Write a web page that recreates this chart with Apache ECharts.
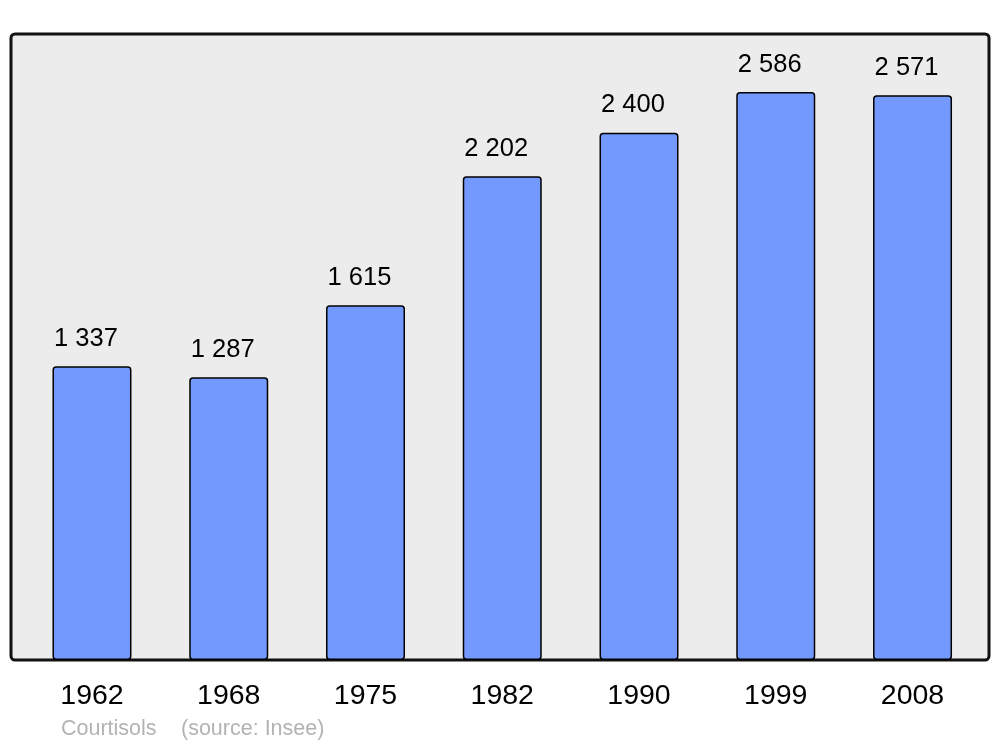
<!DOCTYPE html>
<html><head><meta charset="utf-8">
<script src="https://cdn.jsdelivr.net/npm/echarts@6/dist/echarts.min.js"></script>
<style>html,body{margin:0;padding:0;background:#fff}#c{width:1000px;height:747px}</style>
</head><body><div id="c"></div>
<script>
const years = ['1962','1968','1975','1982','1990','1999','2008'];
const population = [1337, 1287, 1615, 2202, 2400, 2586, 2571];
const footerName = 'Courtisols';
const footerSource = '(source: Insee)';

function fmt(v){ return String(v).replace(/\B(?=(\d{3})+(?!\d))/g, ' '); }

const chart = echarts.init(document.getElementById('c'), null, {renderer:'canvas'});
chart.setOption({
  animation: false,
  backgroundColor: '#ffffff',
  textStyle: {fontFamily: 'Liberation Sans, Arial, sans-serif'},
  graphic: [
    {type:'rect', z:-10, shape:{x:11, y:34, width:978, height:626, r:4},
     style:{fill:'#ececec', stroke:'#111111', lineWidth:3}},
    {type:'text', left:61, top:718, style:{text:footerName, fill:'#b3b3b3', font:'21.5px "Liberation Sans", Arial, sans-serif'}},
    {type:'text', left:181, top:718, style:{text:footerSource, fill:'#b3b3b3', font:'21.5px "Liberation Sans", Arial, sans-serif'}}
  ],
  grid: {left:23.6, right:19.1, top:34, bottom:87, containLabel:false},
  xAxis: {
    type:'category', data: years, boundaryGap:true,
    axisLine:{show:false}, axisTick:{show:false},
    axisLabel:{color:'#000', fontSize:28.5, margin:22, fontFamily:'Liberation Sans, Arial, sans-serif'}
  },
  yAxis: {type:'value', min:0, max:2850, show:false, splitLine:{show:false}},
  series: [{
    type:'bar', data: population, barWidth:79,
    itemStyle:{color:'#7399ff', borderColor:'#000', borderWidth:1.5, borderRadius:3},
    label:{show:true, position:'top', distance:14.5, offset:[-6,0], color:'#000', fontSize:25.5,
      fontFamily:'Liberation Sans, Arial, sans-serif',
      formatter: p => fmt(p.value)}
  }]
});
</script></body></html>
